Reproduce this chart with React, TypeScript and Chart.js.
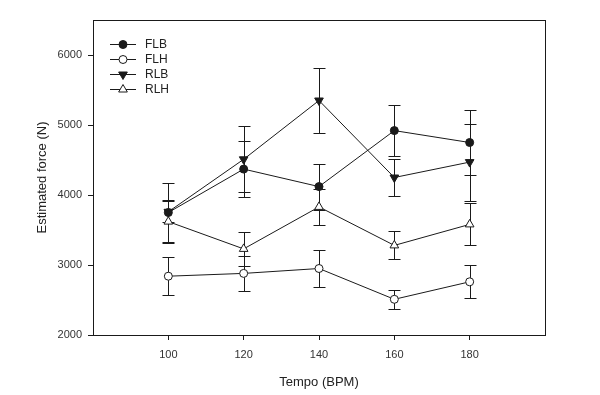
import React, { useEffect, useRef } from "react";
import { Chart, registerables } from "chart.js";

Chart.register(...registerables);

const tempos = [100, 120, 140, 160, 180];
const seriesNames = ["FLB", "FLH", "RLB", "RLH"];
const flb = [3750, 4370, 4120, 4920, 4750];
const flbErr = [420, 400, 330, 360, 470];
const flh = [2840, 2880, 2950, 2510, 2760];
const flhErr = [270, 250, 260, 140, 235];
const rlb = [3760, 4510, 5350, 4250, 4470];
const rlbErr = [150, 470, 470, 270, 550];
const rlh = [3620, 3230, 3830, 3280, 3580];
const rlhErr = [310, 240, 260, 200, 300];
const yTicks = [2000, 3000, 4000, 5000, 6000];
const xTicks = [100, 120, 140, 160, 180];

const INK = "#1a1a1a";
const FONT = "'Liberation Sans', Arial, sans-serif";

type Marker = { style: string; rotation: number; fill: string; radius: number };
const markers: Marker[] = [
  { style: "circle", rotation: 0, fill: INK, radius: 4 },
  { style: "circle", rotation: 0, fill: "#ffffff", radius: 4 },
  { style: "triangle", rotation: 180, fill: INK, radius: 5 },
  { style: "triangle", rotation: 0, fill: "#ffffff", radius: 5 },
];

const values = [flb, flh, rlb, rlh];
const errors = [flbErr, flhErr, rlbErr, rlhErr];

const errorBarPlugin = {
  id: "errorBars",
  beforeDatasetsDraw(chart: any) {
    const { ctx, scales } = chart;
    const xs = scales.x;
    const ys = scales.y;
    ctx.save();
    ctx.strokeStyle = INK;
    ctx.lineWidth = 1;
    values.forEach((vals, si) => {
      vals.forEach((v, i) => {
        const e = errors[si][i];
        const px = Math.round(xs.getPixelForValue(tempos[i])) + 0.5;
        const top = Math.round(ys.getPixelForValue(v + e)) + 0.5;
        const bot = Math.round(ys.getPixelForValue(v - e)) + 0.5;
        ctx.beginPath();
        ctx.moveTo(px, top);
        ctx.lineTo(px, bot);
        ctx.moveTo(px - 6, top);
        ctx.lineTo(px + 6, top);
        ctx.moveTo(px - 6, bot);
        ctx.lineTo(px + 6, bot);
        ctx.stroke();
      });
    });
    ctx.restore();
  },
};

function drawMarker(ctx: CanvasRenderingContext2D, m: Marker, x: number, y: number) {
  ctx.save();
  ctx.beginPath();
  if (m.style === "circle") {
    ctx.arc(x, y, m.radius, 0, Math.PI * 2);
  } else {
    const r = m.radius;
    const dir = m.rotation === 180 ? 1 : -1;
    ctx.moveTo(x, y + dir * r);
    ctx.lineTo(x - r * 0.87, y - dir * r * 0.5);
    ctx.lineTo(x + r * 0.87, y - dir * r * 0.5);
    ctx.closePath();
  }
  ctx.fillStyle = m.fill;
  ctx.fill();
  ctx.strokeStyle = INK;
  ctx.lineWidth = 1;
  ctx.stroke();
  ctx.restore();
}

const frameLegendPlugin = {
  id: "frameLegend",
  afterDraw(chart: any) {
    const { ctx, chartArea } = chart;
    ctx.save();
    ctx.strokeStyle = INK;
    ctx.lineWidth = 1;
    ctx.strokeRect(
      Math.round(chartArea.left) + 0.5,
      Math.round(chartArea.top) + 0.5,
      Math.round(chartArea.right - chartArea.left),
      Math.round(chartArea.bottom - chartArea.top)
    );
    const x0 = chartArea.left + 17;
    const x1 = x0 + 26;
    const mx = (x0 + x1) / 2;
    const rowY = [43.5, 58.5, 73.5, 88.5];
    seriesNames.forEach((name, i) => {
      const y = rowY[i];
      ctx.strokeStyle = INK;
      ctx.lineWidth = 1;
      ctx.beginPath();
      ctx.moveTo(x0, Math.round(y) + 0.5);
      ctx.lineTo(x1, Math.round(y) + 0.5);
      ctx.stroke();
      drawMarker(ctx, markers[i], mx, Math.round(y) + 0.5);
      ctx.fillStyle = "#222";
      ctx.font = `12px ${FONT}`;
      ctx.textBaseline = "middle";
      ctx.textAlign = "left";
      ctx.fillText(name, x1 + 9, y + 1);
    });
    ctx.restore();
  },
};

export default function App() {
  const ref = useRef<HTMLCanvasElement | null>(null);
  useEffect(() => {
    if (!ref.current) return;
    const chart = new Chart(ref.current, {
      type: "line",
      data: {
        datasets: seriesNames.map((name, si) => ({
          label: name,
          data: tempos.map((t, i) => ({ x: t, y: values[si][i] })),
          borderColor: INK,
          borderWidth: 1,
          backgroundColor: markers[si].fill,
          pointBackgroundColor: markers[si].fill,
          pointBorderColor: INK,
          pointBorderWidth: 1,
          pointStyle: markers[si].style as any,
          pointRotation: markers[si].rotation,
          pointRadius: markers[si].radius,
          tension: 0,
          fill: false,
        })),
      },
      options: {
        responsive: false,
        animation: false,
        events: [],
        layout: { padding: { left: 35, top: 20, right: 55, bottom: 5 } },
        plugins: {
          legend: { display: false },
          tooltip: { enabled: false },
        },
        scales: {
          x: {
            type: "linear",
            min: 80,
            max: 200,
            afterBuildTicks: (s: any) => {
              s.ticks = xTicks.map((v) => ({ value: v }));
            },
            afterFit: (s: any) => {
              s.height = 55;
            },
            grid: {
              display: true,
              drawOnChartArea: false,
              drawTicks: true,
              tickLength: 5,
              color: INK,
            },
            border: { display: true, color: INK },
            ticks: {
              color: "#333",
              font: { family: FONT, size: 11 },
              padding: 8,
              maxRotation: 0,
              callback: (v: any) => String(v),
            },
            title: {
              display: true,
              text: "Tempo (BPM)",
              color: "#222",
              font: { family: FONT, size: 13 },
              padding: { top: 6, bottom: 0 },
            },
          },
          y: {
            type: "linear",
            min: 2000,
            max: 6500,
            afterBuildTicks: (s: any) => {
              s.ticks = yTicks.map((v) => ({ value: v }));
            },
            afterFit: (s: any) => {
              s.width = 58;
            },
            grid: {
              display: true,
              drawOnChartArea: false,
              drawTicks: true,
              tickLength: 5,
              color: INK,
            },
            border: { display: true, color: INK },
            ticks: {
              color: "#333",
              font: { family: FONT, size: 11 },
              padding: 6,
              callback: (v: any) => String(v),
            },
            title: {
              display: true,
              text: "Estimated force (N)",
              color: "#222",
              font: { family: FONT, size: 13 },
              padding: { top: 0, bottom: 8 },
            },
          },
        },
      } as any,
      plugins: [errorBarPlugin, frameLegendPlugin],
    });
    return () => chart.destroy();
  }, []);
  return (
    <div style={{ position: "fixed", left: 0, top: 0, width: 600, height: 395, background: "#fff" }}>
      <canvas ref={ref} width={600} height={395} style={{ display: "block" }} />
    </div>
  );
}
